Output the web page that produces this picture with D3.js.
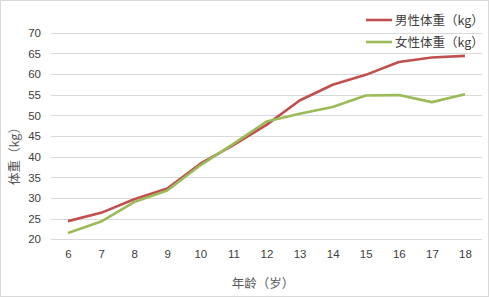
<!DOCTYPE html>
<html><head><meta charset="utf-8">
<script src="https://cdn.jsdelivr.net/npm/d3@7"></script>
<style>body{margin:0;background:#fff}svg{display:block}</style>
</head><body><div id="chart"></div>
<script>
const ages = ["6","7","8","9","10","11","12","13","14","15","16","17","18"];
const maleWeight = [24.4,26.4,29.7,32.3,38.3,42.8,47.7,53.6,57.4,59.8,62.9,64.0,64.4];
const femaleWeight = [21.5,24.3,29.0,31.8,37.9,43.1,48.5,50.4,52.0,54.8,54.9,53.2,55.1];
const yTicks = [20,25,30,35,40,45,50,55,60,65,70];
const seriesNames = ["男性体重（kg）","女性体重（kg）"];
const colors = ["#C0504D","#9BBB59"];

const W = 489, H = 297;
const svg = d3.select("#chart").append("svg").attr("width", W).attr("height", H);
svg.append("rect").attr("x",0.5).attr("y",0.5).attr("width",W-1).attr("height",H-1)
  .attr("fill","#fff").attr("stroke","#d9d9d9");

const x = d3.scalePoint().domain(ages).range([68, 465]);
const y = d3.scaleLinear().domain([20,70]).range([239.3, 32.7]);
const font = "'Liberation Sans','Noto Sans CJK SC',sans-serif";
const cjk = "'Noto Sans CJK SC',sans-serif";

// gridlines
svg.append("g").selectAll("line").data(yTicks).join("line")
  .attr("x1",51).attr("x2",482)
  .attr("y1",d=>Math.round(y(d))+0.5).attr("y2",d=>Math.round(y(d))+0.5)
  .attr("stroke","#d9d9d9").attr("stroke-width",1.2);

// y axis labels
const yAxis = d3.axisLeft(y).tickValues(yTicks).tickSize(0).tickPadding(0);
const gy = svg.append("g").attr("transform","translate(41,0)").call(yAxis);
gy.select(".domain").remove();
gy.selectAll("text").attr("font-family",font).attr("font-size",11.5).attr("fill","#404040");

// x axis labels
const xAxis = d3.axisBottom(x).tickSize(0).tickPadding(0);
const gx = svg.append("g").attr("transform","translate(0,250)").call(xAxis);
gx.select(".domain").remove();
gx.selectAll("text").attr("font-family",font).attr("font-size",11.5).attr("fill","#404040");

// axis titles
svg.append("text").attr("x",263).attr("y",288).attr("text-anchor","middle")
  .attr("font-family",cjk).attr("font-size",12.5).attr("fill","#595959").text("年龄（岁）");
svg.append("text").attr("transform","translate(19,153) rotate(-90)").attr("text-anchor","middle")
  .attr("font-family",cjk).attr("font-size",12.5).attr("fill","#595959").text("体重（kg）");

// lines
const line = d3.line().x((d,i)=>x(ages[i])).y(d=>y(d));
[maleWeight, femaleWeight].forEach((s,k)=>{
  svg.append("path").datum(s).attr("d",line).attr("fill","none")
    .attr("stroke",colors[k]).attr("stroke-width",2.6).attr("stroke-linejoin","round");
});

// legend
seriesNames.forEach((n,k)=>{
  const ly = 20 + k*22;
  svg.append("line").attr("x1",366).attr("x2",392).attr("y1",ly).attr("y2",ly)
    .attr("stroke",colors[k]).attr("stroke-width",2.6);
  svg.append("text").attr("x",395).attr("y",ly+4.5).attr("font-family",cjk)
    .attr("font-size",12.5).attr("fill","#404040").text(n);
});
</script></body></html>
